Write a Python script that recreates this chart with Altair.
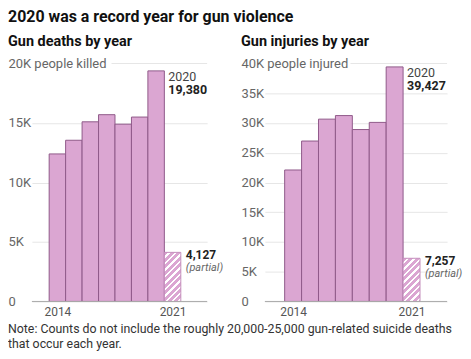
import altair as alt
import pandas as pd

years = [2014, 2015, 2016, 2017, 2018, 2019, 2020, 2021]
deaths = [12400, 13550, 15100, 15700, 14900, 15500, 19380, 4127]
injuries = [22100, 26967, 30650, 31250, 28900, 30100, 39427, 7257]
partial_year = 2021
record_year = 2020
note_lines = ["Note: Counts do not include the roughly 20,000-25,000 gun-related suicide deaths",
              "that occur each year."]

FONT = "Roboto"
PINK = "#dba6d2"
EDGE = "#8f5a89"
GRID = "#e6e6e6"
PLOT_H = 239


def hatch_gradient(w, h, period=6.5, white_frac=0.38):
    s = (w + h) / (w * w + h * h)
    total = w + h
    stops = []
    pos = 0.0
    while pos < total:
        a = pos / total
        b = min((pos + period * (1 - white_frac)) / total, 1.0)
        c = min((pos + period) / total, 1.0)
        stops += [{"offset": a, "color": PINK}, {"offset": b, "color": PINK},
                  {"offset": b, "color": "#ffffff"}, {"offset": c, "color": "#ffffff"}]
        pos += period
    return {"gradient": "linear", "x1": 0, "y1": 0, "x2": s * w, "y2": s * h,
            "stops": stops}


def panel(values, ymax, step, unit_label, width, xmin, title, top_rule_start, note=None):
    height = PLOT_H
    df = pd.DataFrame({"year": years, "value": values})
    df["lo"] = df["year"] - 0.5
    df["hi"] = df["year"] + 0.5
    full = df[df["year"] != partial_year]
    part = df[df["year"] == partial_year].copy()

    xdom = [xmin, 2023.1]
    xs = alt.Scale(domain=xdom, nice=False, zero=False)
    ys = alt.Scale(domain=[0, ymax], nice=False, zero=True)
    tick_vals = list(range(0, ymax + 1, step))
    label_expr = (
        f"datum.value == 0 ? '0' : datum.value == {ymax} ? '{ymax // 1000}K {unit_label}'"
        " : (datum.value / 1000) + 'K'"
    )

    xaxis = alt.Axis(values=[2014, 2021], format="d", grid=False, domain=False,
                     ticks=False, tickSize=0, labelPadding=5, labelFont=FONT,
                     labelFontSize=12, labelColor="#555", title=None)
    yaxis = alt.Axis(values=tick_vals, labelExpr=label_expr, domain=False,
                     ticks=False, tickSize=0, labelAlign="left", labelPadding=24,
                     labelFont=FONT, labelFontSize=13, labelColor="#666",
                     labelOverlap=False, labelBound=False, labelFlush=False,
                     gridColor=GRID,
                     gridOpacity={"condition": {"test": f"datum.value == {ymax}", "value": 0}, "value": 1},
                     title=None)

    bars = alt.Chart(full).mark_rect(fill=PINK, stroke=EDGE, strokeWidth=1).encode(
        x=alt.X("lo:Q", scale=xs, axis=xaxis), x2="hi:Q",
        y=alt.Y("value:Q", scale=ys, axis=yaxis), y2=alt.datum(0))

    X = lambda f: alt.X(f, scale=xs, axis=None)
    Y = lambda f: alt.Y(f, scale=ys, axis=None)

    w_px = width / (xdom[1] - xdom[0])
    h_px = values[-1] / ymax * height
    hatch = alt.Chart(part).mark_rect(fill=hatch_gradient(w_px, h_px), stroke="#c48dbb",
                                      strokeWidth=1).encode(
        x=X("lo:Q"), x2="hi:Q", y=Y("value:Q"), y2=alt.datum(0))

    base_rule = alt.Chart(pd.DataFrame({"v": [0]})).mark_rule(color="#aaaaaa", strokeWidth=1).encode(
        y=Y("v:Q"), x=alt.value(0), x2=alt.value(width))
    top_rule = alt.Chart(pd.DataFrame({"v": [ymax]})).mark_rule(color=GRID, strokeWidth=1).encode(
        y=Y("v:Q"), x=alt.value(top_rule_start), x2=alt.value(width))

    rec = df[df["year"] == record_year].copy()
    rec["yr"] = rec["year"].astype(str)
    rec["num"] = rec["value"].map(lambda v: f"{v:,}")
    part["num"] = part["value"].map(lambda v: f"{v:,}")
    part["note"] = "(partial)"

    def txt(d, field, dx, dy, **kw):
        return alt.Chart(d).mark_text(align="left", baseline="middle", dx=dx, dy=dy,
                                      font=FONT, **kw).encode(
            x=X("hi:Q"), y=Y("value:Q"), text=f"{field}:N")

    rec_year = txt(rec, "yr", 4, 6, fontSize=12.5, color="#444")
    rec_num = txt(rec, "num", 4, 19, fontSize=12.5, fontWeight="bold", color="#222")
    part_num = txt(part, "num", 5, 3, fontSize=12, fontWeight="bold", color="#222")
    part_note = txt(part, "note", 5, 16, fontSize=11, fontStyle="italic", color="#666")

    layers = [bars, hatch, base_rule, top_rule, rec_year, rec_num, part_num, part_note]
    if note:
        note_chart = alt.Chart(pd.DataFrame({"t": [note]})).mark_text(
            align="left", baseline="top", font=FONT, fontSize=12.4, color="#333", lineHeight=15
        ).encode(text="t", x=alt.value(-24), y=alt.value(height + 22))
        layers.append(note_chart)

    return alt.layer(*layers).properties(
        width=width, height=height,
        title=alt.TitleParams(title, anchor="start", font=FONT, fontSize=14.5, fontWeight="bold",
                              color="#111", offset=8),
    ).resolve_axis(x="independent", y="independent")


left = panel(deaths, 20000, 5000, "people killed", 176, 2012.45, "Gun deaths by year", 80,
             note=note_lines)
right = panel(injuries, 40000, 5000, "people injured", 183, 2012.33, "Gun injuries by year", 86)

chart = alt.hconcat(left, right, spacing=58, bounds="flush").properties(
    title=alt.TitleParams("2020 was a record year for gun violence", anchor="start", font=FONT,
                          fontSize=16, fontWeight="bold", color="#111", offset=9),
    padding={"top": 0, "left": 0, "right": 0, "bottom": 0},
    autosize=alt.AutoSizeParams(type="pad"),
).configure_view(stroke=None)

chart.save("out.html", embed_options={"renderer": "svg", "actions": False})
